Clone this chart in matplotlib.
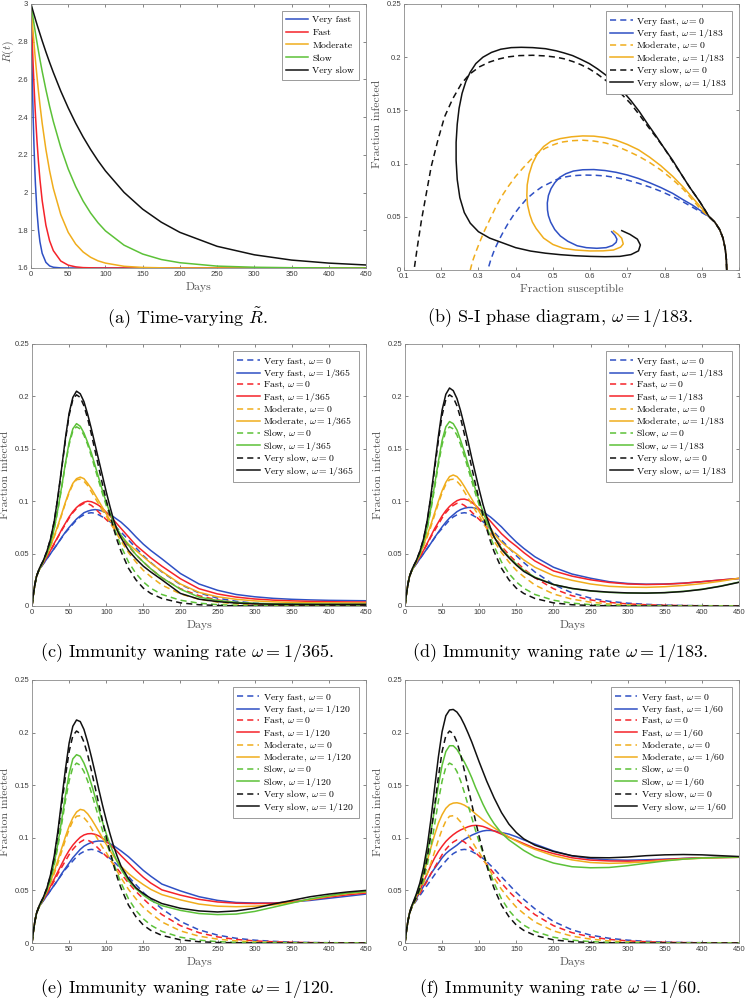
import matplotlib
matplotlib.use('Agg')
import matplotlib.pyplot as plt
from matplotlib.ticker import FuncFormatter

plt.rcParams['font.family'] = 'Liberation Sans'
plt.rcParams['mathtext.fontset'] = 'cm'
SERIF = 'cmr10'

# colours of the five scenarios
c_vf, c_f, c_m, c_s, c_vs = '#2f50c4', '#f5232a', '#f0ad1c', '#5cc138', '#111111'
DASH = (0, (4, 2.7))

# ---------------- (a) time-varying R ----------------
days_a = [0, 1, 2, 3, 4, 5, 6, 8, 10, 12, 15, 20, 25, 30, 40, 50, 60, 70, 80, 90,
          100, 125, 150, 175, 200, 250, 300, 350, 400, 450]
rt_very_fast = [3.0, 2.755, 2.553, 2.386, 2.249, 2.135, 2.041, 1.901, 1.805, 1.739, 1.678, 1.630,
                1.611, 1.604, 1.6005, 1.6, 1.6, 1.6, 1.6, 1.6, 1.6, 1.6, 1.6, 1.6, 1.6, 1.6,
                1.6, 1.6, 1.6, 1.6]
rt_fast = [3.0, 2.878, 2.767, 2.666, 2.573, 2.489, 2.411, 2.277, 2.164, 2.070, 1.958, 1.827,
           1.744, 1.692, 1.637, 1.615, 1.606, 1.602, 1.601, 1.6, 1.6, 1.6, 1.6, 1.6, 1.6, 1.6,
           1.6, 1.6, 1.6, 1.6]
rt_moderate = [3.0, 2.945, 2.892, 2.842, 2.793, 2.746, 2.701, 2.617, 2.538, 2.466, 2.368, 2.229,
               2.115, 2.022, 1.883, 1.789, 1.727, 1.685, 1.657, 1.638, 1.626, 1.609, 1.603,
               1.601, 1.6, 1.6, 1.6, 1.6, 1.6, 1.6]
rt_slow = [3.0, 2.973, 2.946, 2.920, 2.895, 2.870, 2.845, 2.797, 2.751, 2.706, 2.643, 2.546,
           2.457, 2.377, 2.239, 2.125, 2.032, 1.955, 1.892, 1.840, 1.797, 1.721, 1.674, 1.645,
           1.628, 1.610, 1.604, 1.6015, 1.6005, 1.6]
rt_very_slow = [3.0, 2.986, 2.972, 2.959, 2.945, 2.932, 2.918, 2.892, 2.867, 2.842, 2.805, 2.746,
                2.690, 2.637, 2.538, 2.449, 2.368, 2.295, 2.229, 2.169, 2.115, 2.001, 1.912,
                1.843, 1.789, 1.715, 1.670, 1.642, 1.626, 1.616]

# ---------------- (b) S-I phase diagram ----------------
b_s_vf0 = [0.967, 0.966, 0.963, 0.957, 0.948, 0.935, 0.92, 0.90, 0.875, 0.85, 0.822, 0.79, 0.76,
           0.73, 0.70, 0.67, 0.643, 0.615, 0.59, 0.571, 0.55, 0.53, 0.51, 0.49, 0.47, 0.45, 0.43,
           0.41, 0.395, 0.38, 0.367, 0.355, 0.343, 0.333, 0.325]
b_i_vf0 = [0, 0.01, 0.02, 0.03, 0.038, 0.045, 0.05, 0.054, 0.059, 0.064, 0.069, 0.074, 0.078,
           0.0815, 0.0845, 0.0868, 0.0883, 0.089, 0.0892, 0.089, 0.0885, 0.0872, 0.085, 0.0815,
           0.078, 0.073, 0.067, 0.059, 0.052, 0.044, 0.036, 0.028, 0.019, 0.0095, 0]
b_s_vf = [0.967, 0.966, 0.963, 0.957, 0.948, 0.935, 0.92, 0.90, 0.875, 0.85, 0.822, 0.79, 0.76,
          0.73, 0.70, 0.67, 0.64, 0.61, 0.58, 0.555, 0.535, 0.518, 0.505, 0.495, 0.488, 0.485,
          0.4855, 0.488, 0.494, 0.505, 0.52, 0.54, 0.565, 0.59, 0.618, 0.643, 0.66, 0.67, 0.672,
          0.667, 0.658]
b_i_vf = [0, 0.01, 0.02, 0.03, 0.038, 0.045, 0.05, 0.055, 0.061, 0.066, 0.072, 0.0775, 0.082,
          0.086, 0.0893, 0.0918, 0.0935, 0.0944, 0.0942, 0.093, 0.0905, 0.087, 0.082, 0.0765,
          0.07, 0.063, 0.0564, 0.051, 0.045, 0.038, 0.032, 0.027, 0.0228, 0.021, 0.0204, 0.021,
          0.023, 0.026, 0.029, 0.0325, 0.036]
b_s_m0 = [0.967, 0.966, 0.963, 0.957, 0.948, 0.935, 0.92, 0.90, 0.875, 0.85, 0.822, 0.79, 0.76,
          0.73, 0.70, 0.67, 0.64, 0.61, 0.58, 0.55, 0.52, 0.50, 0.48, 0.46, 0.44, 0.42, 0.40,
          0.38, 0.362, 0.345, 0.33, 0.315, 0.302, 0.292, 0.284, 0.278]
b_i_m0 = [0, 0.01, 0.02, 0.03, 0.038, 0.045, 0.05, 0.056, 0.066, 0.076, 0.085, 0.094, 0.101,
          0.107, 0.112, 0.1165, 0.1195, 0.1212, 0.122, 0.1215, 0.12, 0.1175, 0.1145, 0.11,
          0.1035, 0.096, 0.088, 0.0785, 0.069, 0.058, 0.047, 0.036, 0.025, 0.016, 0.008, 0]
b_s_m = [0.967, 0.966, 0.963, 0.957, 0.948, 0.935, 0.92, 0.90, 0.875, 0.85, 0.822, 0.79, 0.76,
         0.73, 0.70, 0.67, 0.64, 0.61, 0.58, 0.55, 0.52, 0.495, 0.475, 0.458, 0.445, 0.436,
         0.431, 0.43, 0.432, 0.438, 0.445, 0.455, 0.475, 0.50, 0.528, 0.56, 0.60, 0.635, 0.663,
         0.682, 0.689, 0.685, 0.675, 0.663]
b_i_m = [0, 0.01, 0.02, 0.03, 0.038, 0.045, 0.05, 0.058, 0.068, 0.078, 0.088, 0.098, 0.106,
         0.113, 0.118, 0.122, 0.1245, 0.1258, 0.126, 0.1252, 0.1235, 0.121, 0.116, 0.109, 0.100,
         0.090, 0.080, 0.070, 0.061, 0.052, 0.045, 0.039, 0.030, 0.024, 0.0204, 0.0188, 0.0179,
         0.018, 0.0188, 0.0215, 0.0245, 0.0298, 0.0335, 0.0367]
b_s_vs0 = [0.967, 0.966, 0.963, 0.957, 0.948, 0.935, 0.92, 0.895, 0.867, 0.845, 0.822, 0.80,
           0.777, 0.755, 0.732, 0.71, 0.688, 0.665, 0.643, 0.62, 0.598, 0.575, 0.553, 0.53,
           0.509, 0.48, 0.446, 0.41, 0.38, 0.357, 0.33, 0.303, 0.276, 0.254, 0.231, 0.209, 0.191,
           0.173, 0.160, 0.147, 0.136, 0.127]
b_i_vs0 = [0, 0.01, 0.02, 0.03, 0.038, 0.045, 0.05, 0.064, 0.078, 0.09, 0.102, 0.114, 0.125,
           0.135, 0.146, 0.156, 0.164, 0.172, 0.178, 0.184, 0.189, 0.193, 0.196, 0.1985, 0.2,
           0.2012, 0.2018, 0.2015, 0.2003, 0.1985, 0.1955, 0.191, 0.184, 0.175, 0.161, 0.144,
           0.122, 0.097, 0.072, 0.047, 0.022, 0]
b_s_vs = [0.967, 0.966, 0.963, 0.957, 0.948, 0.935, 0.92, 0.895, 0.867, 0.845, 0.822, 0.80,
          0.777, 0.755, 0.732, 0.71, 0.688, 0.665, 0.643, 0.62, 0.598, 0.575, 0.553, 0.53, 0.509,
          0.48, 0.446, 0.415, 0.388, 0.36, 0.335, 0.312, 0.293, 0.278, 0.266, 0.256, 0.248,
          0.243, 0.240, 0.240, 0.243, 0.250, 0.262, 0.278, 0.30, 0.33, 0.365, 0.40, 0.44, 0.48,
          0.52, 0.56, 0.60, 0.64, 0.68, 0.71, 0.73, 0.735, 0.727, 0.707, 0.685]
b_i_vs = [0, 0.01, 0.02, 0.03, 0.038, 0.045, 0.05, 0.064, 0.078, 0.09, 0.103, 0.114, 0.126,
          0.137, 0.149, 0.159, 0.168, 0.176, 0.183, 0.189, 0.194, 0.198, 0.2015, 0.204, 0.206,
          0.208, 0.209, 0.2093, 0.209, 0.2075, 0.2045, 0.2, 0.194, 0.186, 0.177, 0.166, 0.152,
          0.137, 0.12, 0.103, 0.085, 0.068, 0.054, 0.044, 0.036, 0.030, 0.0255, 0.021, 0.0178,
          0.0158, 0.0144, 0.0134, 0.0128, 0.0125, 0.0128, 0.0145, 0.018, 0.0235, 0.029, 0.0335,
          0.037]

# ---------------- (c)-(f) fraction infected over time ----------------
days = [0, 2, 4, 6, 8, 10, 15, 20, 25, 30, 35, 40, 45, 50, 55, 60, 65, 70, 75, 80, 85, 90, 95,
        100, 105, 110, 115, 120, 130, 140, 150, 160, 175, 200, 225, 250, 275, 300, 325, 350,
        375, 400, 425, 450]

# no waning immunity (omega = 0), same in every panel
i0_very_fast = [0, 0.012, 0.021, 0.028, 0.032, 0.035,
                0.040, 0.045, 0.050, 0.055, 0.060, 0.065, 0.070, 0.074, 0.078,
                0.082, 0.085, 0.087, 0.0885, 0.089, 0.0885, 0.087, 0.085, 0.083,
                0.0805, 0.0775, 0.074, 0.0705, 0.063, 0.0555, 0.048, 0.0415,
                0.0325, 0.0205, 0.0125, 0.0075, 0.0045, 0.0027, 0.0016, 0.0009, 0.0005, 0.0003,
                0.0002, 0.0001]
i0_fast = [0, 0.012, 0.021, 0.028, 0.032, 0.035,
           0.041, 0.047, 0.053, 0.059, 0.066, 0.072, 0.078, 0.084, 0.089,
           0.093, 0.096, 0.098, 0.0978, 0.096, 0.093, 0.0895, 0.086, 0.0825,
           0.079, 0.075, 0.0705, 0.066, 0.057, 0.049, 0.042, 0.0355,
           0.027, 0.0165, 0.0098, 0.0058, 0.0034, 0.002, 0.0012, 0.0007, 0.0004, 0.0002, 0.0001,
           0.0001]
i0_moderate = [0, 0.012, 0.021, 0.028, 0.032, 0.035,
               0.042, 0.049, 0.057, 0.066, 0.076, 0.087, 0.098, 0.108, 0.116,
               0.1205, 0.121, 0.119, 0.115, 0.109, 0.103, 0.097, 0.091, 0.086,
               0.080, 0.074, 0.068, 0.062, 0.051, 0.042, 0.034, 0.028,
               0.020, 0.0115, 0.0065, 0.0037, 0.002, 0.0011, 0.0006, 0.0003, 0.0002, 0.0001,
               0.0001, 0]
i0_slow = [0, 0.012, 0.021, 0.028, 0.032, 0.035,
           0.042, 0.050, 0.060, 0.074, 0.092, 0.113, 0.135, 0.154, 0.167,
           0.171, 0.169, 0.163, 0.154, 0.143, 0.131, 0.119, 0.107, 0.096,
           0.086, 0.076, 0.066, 0.057, 0.042, 0.031, 0.023, 0.017,
           0.011, 0.0055, 0.0027, 0.0013, 0.0006, 0.0003, 0.0001, 0, 0, 0, 0, 0]
i0_very_slow = [0, 0.012, 0.021, 0.028, 0.032, 0.036,
                0.043, 0.052, 0.064, 0.081, 0.104, 0.131, 0.158, 0.182, 0.197,
                0.2015, 0.199, 0.191, 0.179, 0.164, 0.148, 0.132, 0.116, 0.101,
                0.087, 0.074, 0.062, 0.052, 0.036, 0.025, 0.017, 0.012,
                0.0072, 0.003, 0.0012, 0.0005, 0.0002, 0.0001, 0, 0, 0, 0, 0, 0]

# omega = 1/365
c_very_fast = [0, 0.012, 0.021, 0.028, 0.032, 0.035,
               0.040, 0.045, 0.050, 0.055, 0.060, 0.0655, 0.0705, 0.075, 0.079,
               0.083, 0.086, 0.089, 0.0905, 0.0915, 0.092, 0.0915, 0.0905, 0.089,
               0.087, 0.085, 0.0825, 0.080, 0.0735, 0.066, 0.059, 0.053,
               0.045, 0.031, 0.021, 0.015, 0.011, 0.0088, 0.0073, 0.0064, 0.0058, 0.0054,
               0.0052, 0.005]
c_fast = [0, 0.012, 0.021, 0.028, 0.032, 0.035,
          0.041, 0.047, 0.053, 0.060, 0.066, 0.073, 0.079, 0.085, 0.090,
          0.094, 0.097, 0.099, 0.100, 0.0995, 0.098, 0.096, 0.093, 0.0895,
          0.086, 0.082, 0.078, 0.074, 0.066, 0.058, 0.052, 0.046,
          0.038, 0.026, 0.0165, 0.0115, 0.0085, 0.0067, 0.0056, 0.0049, 0.0044, 0.0041, 0.0039,
          0.0038]
c_moderate = [0, 0.012, 0.021, 0.028, 0.032, 0.035,
              0.042, 0.049, 0.057, 0.067, 0.077, 0.088, 0.099, 0.109, 0.117,
              0.1215, 0.123, 0.1215, 0.117, 0.112, 0.106, 0.100, 0.094, 0.088,
              0.082, 0.077, 0.072, 0.067, 0.059, 0.053, 0.047, 0.041,
              0.033, 0.021, 0.013, 0.0088, 0.0064, 0.0049, 0.004, 0.0034, 0.0031, 0.003, 0.0029,
              0.0028]
c_slow = [0, 0.012, 0.021, 0.028, 0.032, 0.035,
          0.042, 0.050, 0.060, 0.074, 0.093, 0.114, 0.136, 0.156, 0.169,
          0.174, 0.1715, 0.165, 0.156, 0.146, 0.134, 0.122, 0.110, 0.099,
          0.089, 0.080, 0.0735, 0.0675, 0.058, 0.049, 0.042, 0.0355,
          0.027, 0.016, 0.0085, 0.0053, 0.0035, 0.0026, 0.0021, 0.0019, 0.0018, 0.0017, 0.0016,
          0.0016]
c_very_slow = [0, 0.012, 0.021, 0.028, 0.032, 0.036,
               0.043, 0.052, 0.064, 0.081, 0.105, 0.132, 0.160, 0.184, 0.199,
               0.205, 0.2025, 0.195, 0.183, 0.169, 0.154, 0.139, 0.124, 0.109,
               0.095, 0.082, 0.072, 0.065, 0.053, 0.045, 0.038, 0.0325,
               0.025, 0.012, 0.0065, 0.0042, 0.0028, 0.0021, 0.0017, 0.0016, 0.0015, 0.0015,
               0.0015, 0.0015]

# omega = 1/183
d_very_fast = [0, 0.012, 0.021, 0.028, 0.032, 0.035,
               0.040, 0.045, 0.050, 0.055, 0.060, 0.0655, 0.0705, 0.0755, 0.080,
               0.084, 0.087, 0.090, 0.092, 0.0933, 0.094, 0.094, 0.0933, 0.092,
               0.090, 0.0875, 0.085, 0.082, 0.0755, 0.068, 0.061, 0.055,
               0.047, 0.037, 0.0305, 0.0265, 0.0232, 0.0215, 0.0208, 0.021, 0.0218, 0.0232,
               0.0248, 0.0262]
d_fast = [0, 0.012, 0.021, 0.028, 0.032, 0.035,
          0.041, 0.047, 0.053, 0.060, 0.067, 0.074, 0.080, 0.086, 0.091,
          0.095, 0.098, 0.1005, 0.1018, 0.102, 0.101, 0.099, 0.096, 0.0925,
          0.089, 0.085, 0.081, 0.077, 0.069, 0.0625, 0.057, 0.051,
          0.043, 0.0335, 0.0285, 0.025, 0.0225, 0.021, 0.0205, 0.0208, 0.0217, 0.0232, 0.0248,
          0.0263]
d_moderate = [0, 0.012, 0.021, 0.028, 0.032, 0.035,
              0.042, 0.049, 0.058, 0.068, 0.078, 0.089, 0.100, 0.110, 0.118,
              0.1235, 0.125, 0.1235, 0.1195, 0.114, 0.108, 0.102, 0.096, 0.090,
              0.084, 0.079, 0.074, 0.069, 0.061, 0.055, 0.050, 0.044,
              0.037, 0.029, 0.0245, 0.021, 0.0188, 0.018, 0.0178, 0.0184, 0.0196, 0.0213,
              0.0236, 0.0265]
d_slow = [0, 0.012, 0.021, 0.028, 0.032, 0.035,
          0.042, 0.050, 0.061, 0.075, 0.094, 0.116, 0.138, 0.158, 0.171,
          0.176, 0.174, 0.168, 0.158, 0.147, 0.135, 0.123, 0.111, 0.100,
          0.090, 0.081, 0.073, 0.066, 0.055, 0.047, 0.040, 0.034,
          0.0275, 0.0205, 0.0166, 0.0143, 0.013, 0.0124, 0.0123, 0.0128, 0.014, 0.016, 0.019,
          0.0228]
d_very_slow = [0, 0.012, 0.021, 0.028, 0.032, 0.036,
               0.043, 0.052, 0.064, 0.082, 0.106, 0.134, 0.162, 0.187, 0.202,
               0.208, 0.2055, 0.198, 0.186, 0.172, 0.157, 0.141, 0.126, 0.111,
               0.097, 0.085, 0.075, 0.066, 0.054, 0.046, 0.039, 0.033,
               0.027, 0.0205, 0.0168, 0.0145, 0.0132, 0.0125, 0.0123, 0.0127, 0.0138, 0.0158,
               0.0188, 0.0226]

# omega = 1/120
e_very_fast = [0, 0.012, 0.021, 0.028, 0.032, 0.035,
               0.040, 0.045, 0.050, 0.055, 0.060, 0.066, 0.071, 0.076, 0.081,
               0.085, 0.089, 0.092, 0.094, 0.0955, 0.0965, 0.097, 0.0968, 0.096,
               0.0945, 0.0925, 0.090, 0.0875, 0.082, 0.0755, 0.069, 0.0635,
               0.056, 0.0495, 0.044, 0.0405, 0.0385, 0.038, 0.038, 0.039, 0.0405, 0.0425, 0.0445,
               0.0465]
e_fast = [0, 0.012, 0.021, 0.028, 0.032, 0.035,
          0.041, 0.047, 0.054, 0.061, 0.068, 0.075, 0.082, 0.088, 0.093,
          0.097, 0.1005, 0.1027, 0.1038, 0.104, 0.1033, 0.1018, 0.0995, 0.0968,
          0.0937, 0.0903, 0.0868, 0.083, 0.076, 0.069, 0.0625, 0.057,
          0.0505, 0.0455, 0.0415, 0.039, 0.0378, 0.0375, 0.0378, 0.0392, 0.0412, 0.0437,
          0.0458, 0.0475]
e_moderate = [0, 0.012, 0.021, 0.028, 0.032, 0.035,
              0.042, 0.050, 0.058, 0.068, 0.079, 0.090, 0.101, 0.111, 0.119,
              0.1245, 0.127, 0.1262, 0.1228, 0.1178, 0.112, 0.106, 0.0998, 0.094,
              0.088, 0.0825, 0.0775, 0.0728, 0.066, 0.0605, 0.0555, 0.051,
              0.046, 0.041, 0.037, 0.035, 0.0345, 0.035, 0.0362, 0.0385, 0.0415, 0.0445, 0.047,
              0.0485]
e_slow = [0, 0.012, 0.021, 0.028, 0.032, 0.035,
          0.042, 0.050, 0.061, 0.076, 0.095, 0.117, 0.140, 0.161, 0.175,
          0.179, 0.1775, 0.171, 0.162, 0.151, 0.139, 0.127, 0.115, 0.104,
          0.094, 0.085, 0.077, 0.070, 0.059, 0.0515, 0.0455, 0.0405,
          0.0355, 0.031, 0.028, 0.027, 0.0275, 0.030, 0.034, 0.038, 0.042, 0.045, 0.0475, 0.049]
e_very_slow = [0, 0.012, 0.021, 0.028, 0.032, 0.036,
               0.043, 0.052, 0.065, 0.083, 0.107, 0.136, 0.165, 0.190, 0.206,
               0.212, 0.2105, 0.203, 0.191, 0.177, 0.162, 0.146, 0.131, 0.117,
               0.104, 0.092, 0.082, 0.073, 0.061, 0.0525, 0.047, 0.0425,
               0.0375, 0.033, 0.0305, 0.0295, 0.0305, 0.033, 0.037, 0.0405, 0.044, 0.0465,
               0.0485, 0.05]

# omega = 1/60
f_very_fast = [0, 0.012, 0.021, 0.028, 0.033, 0.036,
               0.042, 0.048, 0.054, 0.060, 0.066, 0.071, 0.076, 0.081, 0.085,
               0.088, 0.0905, 0.093, 0.096, 0.0985, 0.1005, 0.1025, 0.104, 0.1055,
               0.1065, 0.107, 0.107, 0.1066, 0.105, 0.1035, 0.101, 0.098,
               0.094, 0.0875, 0.0828, 0.0802, 0.079, 0.0787, 0.0791, 0.0797, 0.0804, 0.081,
               0.0813, 0.0815]
f_fast = [0, 0.012, 0.021, 0.028, 0.033, 0.036,
          0.043, 0.050, 0.058, 0.066, 0.074, 0.081, 0.087, 0.092, 0.0965,
          0.100, 0.103, 0.1055, 0.1075, 0.109, 0.1105, 0.1115, 0.1118, 0.1115,
          0.1108, 0.1095, 0.108, 0.1065, 0.1035, 0.1005, 0.0975, 0.0945,
          0.090, 0.085, 0.081, 0.0788, 0.078, 0.0778, 0.0782, 0.0793, 0.0803, 0.081, 0.0813,
          0.0815]
f_moderate = [0, 0.012, 0.021, 0.028, 0.033, 0.036,
              0.044, 0.053, 0.065, 0.078, 0.091, 0.103, 0.114, 0.122, 0.128,
              0.1315, 0.133, 0.1333, 0.1325, 0.131, 0.1288, 0.126, 0.1228, 0.120,
              0.117, 0.1145, 0.112, 0.1095, 0.105, 0.1008, 0.097, 0.0935,
              0.089, 0.083, 0.079, 0.0765, 0.0757, 0.0762, 0.0772, 0.0785, 0.0797, 0.0806,
              0.0811, 0.0815]
f_slow = [0, 0.012, 0.021, 0.028, 0.033, 0.036,
          0.045, 0.055, 0.068, 0.085, 0.106, 0.128, 0.150, 0.169, 0.182,
          0.1875, 0.1875, 0.184, 0.178, 0.172, 0.165, 0.157, 0.148, 0.140,
          0.132, 0.125, 0.119, 0.1135, 0.1045, 0.098, 0.093, 0.088,
          0.082, 0.076, 0.0725, 0.0715, 0.0718, 0.0735, 0.0758, 0.078, 0.0797, 0.0808, 0.0814,
          0.0818]
f_very_slow = [0, 0.012, 0.021, 0.028, 0.033, 0.037,
               0.046, 0.057, 0.072, 0.092, 0.118, 0.148, 0.177, 0.201, 0.216,
               0.2215, 0.222, 0.2195, 0.2145, 0.2075, 0.1995, 0.191, 0.1815, 0.172,
               0.163, 0.154, 0.146, 0.138, 0.124, 0.113, 0.105, 0.099,
               0.093, 0.087, 0.083, 0.0812, 0.081, 0.0817, 0.083, 0.0838, 0.0841, 0.0838, 0.083,
               0.0822]

W, H = 746, 999


def rect(left, right, top, bottom):
    return [left / W, 1 - bottom / H, (right - left) / W, (bottom - top) / H]


def fmt(v, pos):
    return '%g' % round(v, 4)


def style(ax, xticks, yticks):
    ax.set_xticks(xticks)
    ax.set_yticks(yticks)
    ax.xaxis.set_major_formatter(FuncFormatter(fmt))
    ax.yaxis.set_major_formatter(FuncFormatter(fmt))
    ax.tick_params(direction='in', length=2.5, width=0.5, color='#555555',
                   labelcolor='#3c3c3c', labelsize=5.5, top=True, right=True, pad=2)
    for sp in ax.spines.values():
        sp.set_color('#8a8a8a')
        sp.set_linewidth(0.6)


def labels(ax, xl, yl, ypos=0.5, ycoord=-0.066):
    ax.set_xlabel(xl, fontfamily=SERIF, fontsize=8.5, color='#555555')
    ax.set_ylabel(yl, fontfamily=SERIF, fontsize=8.5, color='#555555')
    ax.xaxis.set_label_coords(0.5, -0.052)
    ax.yaxis.set_label_coords(ycoord, ypos)


def legend(ax, spacing=-0.05):
    leg = ax.legend(loc='upper right', prop={'family': SERIF, 'size': 7}, fancybox=False,
                    framealpha=1, edgecolor='#8a8a8a', handlelength=2.3, handletextpad=0.4,
                    labelspacing=spacing, borderpad=0.45, borderaxespad=0.75)
    leg.get_frame().set_linewidth(0.6)


def caption(x, y, txt):
    fig.text(x / W, 1 - y / H, txt, ha='center', va='center', fontfamily=SERIF, fontsize=13)


fig = plt.figure(figsize=(W / 100, H / 100), dpi=100)
LW = 1.1

# (a)
ax = fig.add_axes(rect(31, 366, 4, 268))
for y, col, name in [(rt_very_fast, c_vf, 'Very fast'), (rt_fast, c_f, 'Fast'),
                     (rt_moderate, c_m, 'Moderate'), (rt_slow, c_s, 'Slow'),
                     (rt_very_slow, c_vs, 'Very slow')]:
    ax.plot(days_a, y, color=col, lw=LW, label=name)
ax.set_xlim(0, 450)
ax.set_ylim(1.6, 3)
style(ax, range(0, 451, 50), [1.6, 1.8, 2, 2.2, 2.4, 2.6, 2.8, 3])
labels(ax, 'Days', r'$\tilde{R}(t)$', ypos=0.82, ycoord=-0.044)
legend(ax, spacing=0.4)
caption(187, 318, r'(a) Time-varying $\tilde{R}$.')

# (b)
ax = fig.add_axes(rect(404, 739, 4, 270))
for s, i, col, ls, name in [
        (b_s_vf0, b_i_vf0, c_vf, DASH, r'Very fast, $\omega = 0$'),
        (b_s_vf, b_i_vf, c_vf, '-', r'Very fast, $\omega = 1/183$'),
        (b_s_m0, b_i_m0, c_m, DASH, r'Moderate, $\omega = 0$'),
        (b_s_m, b_i_m, c_m, '-', r'Moderate, $\omega = 1/183$'),
        (b_s_vs0, b_i_vs0, c_vs, DASH, r'Very slow, $\omega = 0$'),
        (b_s_vs, b_i_vs, c_vs, '-', r'Very slow, $\omega = 1/183$')]:
    ax.plot(s, i, color=col, lw=LW, ls=ls, label=name)
ax.set_xlim(0.1, 1)
ax.set_ylim(0, 0.25)
style(ax, [0.1, 0.2, 0.3, 0.4, 0.5, 0.6, 0.7, 0.8, 0.9, 1], [0, 0.05, 0.1, 0.15, 0.2, 0.25])
labels(ax, 'Fraction susceptible', 'Fraction infected', ypos=0.55)
legend(ax)
caption(560, 318, r'(b) S-I phase diagram, $\omega = 1/183$.')

# (c)-(f)
panels = [
    ((32, 366, 344, 606), '1/365', [c_very_fast, c_fast, c_moderate, c_slow, c_very_slow],
     (187, 653), 'c'),
    ((405, 739, 344, 606), '1/183', [d_very_fast, d_fast, d_moderate, d_slow, d_very_slow],
     (560, 653), 'd'),
    ((32, 366, 680, 943), '1/120', [e_very_fast, e_fast, e_moderate, e_slow, e_very_slow],
     (187, 988), 'e'),
    ((405, 739, 680, 943), '1/60', [f_very_fast, f_fast, f_moderate, f_slow, f_very_slow],
     (560, 988), 'f'),
]
names = ['Very fast', 'Fast', 'Moderate', 'Slow', 'Very slow']
cols = [c_vf, c_f, c_m, c_s, c_vs]
base = [i0_very_fast, i0_fast, i0_moderate, i0_slow, i0_very_slow]

for box, om, series, cap, letter in panels:
    ax = fig.add_axes(rect(*box))
    for name, col, y0, y1 in zip(names, cols, base, series):
        ax.plot(days, y0, color=col, lw=LW, ls=DASH, label=name + r', $\omega = 0$')
        ax.plot(days, y1, color=col, lw=LW, label=name + r', $\omega = %s$' % om)
    ax.set_xlim(0, 450)
    ax.set_ylim(0, 0.25)
    style(ax, range(0, 451, 50), [0, 0.05, 0.1, 0.15, 0.2, 0.25])
    labels(ax, 'Days', 'Fraction infected')
    legend(ax)
    caption(cap[0], cap[1], r'(%s) Immunity waning rate $\omega = %s$.' % (letter, om))

fig.savefig('out.png', dpi=100)
